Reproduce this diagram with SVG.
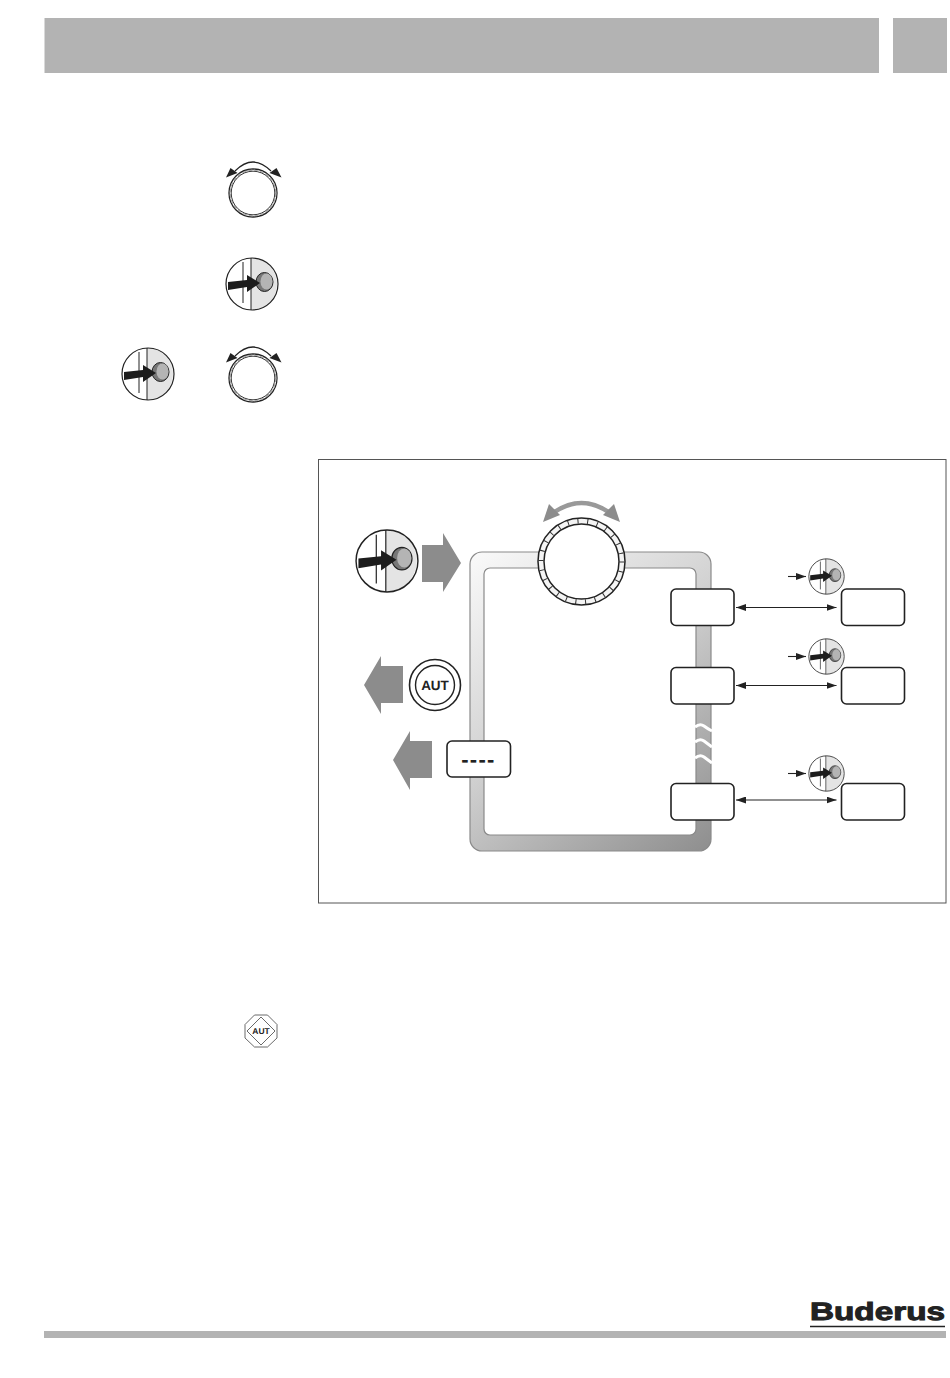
<svg xmlns="http://www.w3.org/2000/svg" width="950" height="1378" viewBox="0 0 950 1378">
<style>
.bar{fill:#b3b3b3}
.box{fill:#fff;stroke:#222;stroke-width:1.6}
.grey{fill:#8c8c8c}
.conn{fill:none;stroke:#222;stroke-width:1.1}
text{font-family:"Liberation Sans",Arial,sans-serif;font-weight:700;fill:#222;text-anchor:middle;text-rendering:geometricPrecision}
</style>
<defs>
<linearGradient id="pipe" gradientUnits="userSpaceOnUse" x1="470" y1="552" x2="711" y2="851">
<stop offset="0" stop-color="#fafafa"/><stop offset=".45" stop-color="#d2d2d2"/><stop offset="1" stop-color="#8e8e8e"/>
</linearGradient>
<marker id="ah" markerUnits="userSpaceOnUse" markerWidth="11" markerHeight="7" refX="10" refY="3.5" orient="auto-start-reverse"><path d="M0 0L10 3.500L0 7z" fill="#222"/></marker>
<g id="press">
<circle r="26" fill="#fff"/>
<path d="M-1 -26A26 26 0 0 1 -1 26z" fill="#e4e4e4"/>
<path d="M-9 -22V19M-1 -26V26" fill="none" stroke="#222" stroke-width="1"/>
<ellipse cx="12.500" cy="-2" rx="8.500" ry="9.500" fill="#777" stroke="#222" stroke-width="1"/>
<ellipse cx="14.500" cy="-2.500" rx="6" ry="8" fill="#b4b4b4"/>
<path d="M-24 -2L-5 -4V-9L8 -1L-5 8V3L-24 6z" fill="#1c1c1c"/>
<circle r="26" fill="none" stroke="#222" stroke-width="1.200"/>
</g>
<g id="dial">
<circle r="24" fill="#fff" stroke="#222" stroke-width="1.300"/>
<circle r="22.800" fill="none" stroke="#aaa" stroke-width="1.200" stroke-dasharray="4 2"/>
<circle r="21.800" fill="#fff" stroke="#222" stroke-width=".9"/>
<path d="M-18 -22Q0 -40 18 -22" fill="none" stroke="#222" stroke-width="1.200"/>
<path d="M-27 -15.500L-22.500 -25L-15.500 -20z" fill="#222"/>
<path d="M28.500 -15.500L23.500 -25L16.500 -20z" fill="#222"/>
</g>
</defs>
<rect id="header-left" class="bar" x="44.500" y="18" width="834.500" height="55"/>
<rect id="header-right" class="bar" x="893" y="18" width="54" height="55"/>
<g id="step-dial-1"><use href="#dial" x="253" y="193"/></g>
<g id="step-press"><use href="#press" x="252" y="284"/></g>
<g id="step-press-2"><use href="#press" x="148" y="374"/></g>
<g id="step-dial-2"><use href="#dial" x="253" y="378"/></g>
<rect id="frame" x="318.500" y="459.500" width="627.500" height="443.500" fill="#fff" stroke="#555" stroke-width="1"/>
<g id="pipe-loop">
<path fill-rule="evenodd" fill="url(#pipe)" stroke="#8a8a8a" stroke-width="1.200" d="M482 552H699A12 12 0 0 1 711 564V839A12 12 0 0 1 699 851H482A12 12 0 0 1 470 839V564A12 12 0 0 1 482 552ZM490 568A6 6 0 0 0 484 574V829A6 6 0 0 0 490 835H690A6 6 0 0 0 696 829V574A6 6 0 0 0 690 568Z"/>
<path d="M695 727Q700 723 704 726T712 731M695 742Q700 738 704 741T712 747M695 758Q700 754 704 757T712 763" fill="none" stroke="#fff" stroke-width="3"/>
</g>
<g id="rotary-dial">
<circle cx="581.500" cy="561.500" r="43.500" fill="#f4f4f4" stroke="#222" stroke-width="1.500"/>
<circle cx="581.500" cy="561.500" r="40.500" fill="none" stroke="#333" stroke-width="5" stroke-dasharray="1 8.815"/>
<circle cx="581.500" cy="561.500" r="37.500" fill="#fff" stroke="#222" stroke-width="1.500"/>
<path d="M553 513Q581.500 493 610 513" fill="none" stroke="#999" stroke-width="4.500"/>
<path class="grey" d="M543 522L549 504L560 515z"/>
<path class="grey" d="M620 522L614 504L603 515z"/>
</g>
<g id="push-big">
<use href="#press" transform="translate(387 561) scale(1.190)"/>
<path class="grey" d="M422 545H443V533L461 563L443 592V582H422z"/>
</g>
<g id="aut-button">
<circle cx="435" cy="685" r="25.500" fill="#fff" stroke="#222" stroke-width="1.600"/>
<circle cx="435" cy="685" r="19.500" fill="#fff" stroke="#222" stroke-width="1.400"/>
<text x="435" y="690" font-size="13.500">AUT</text>
<path class="grey" d="M403 666H381V656L364 685L381 714V703H403z"/>
</g>
<g id="display">
<rect class="box" x="447" y="741" width="63.500" height="36" rx="5"/>
<text x="478.500" y="767" font-size="22" letter-spacing="1.300">----</text>
<path class="grey" d="M432 741H410V731L393 760L410 790V778H432z"/>
</g>
<g id="box-1"><rect class="box" x="671" y="589" width="63" height="36.500" rx="5"/></g>
<g id="box-2"><rect class="box" x="671" y="667.500" width="63" height="36.500" rx="5"/></g>
<g id="box-3"><rect class="box" x="671" y="783.500" width="63" height="36.500" rx="5"/></g>
<g id="box-1r"><rect class="box" x="841.500" y="589" width="63" height="36.500" rx="5"/></g>
<g id="box-2r"><rect class="box" x="841.500" y="667.500" width="63" height="36.500" rx="5"/></g>
<g id="box-3r"><rect class="box" x="841.500" y="783.500" width="63" height="36.500" rx="5"/></g>
<g id="press-1"><use href="#press" transform="translate(826.500 576.500) scale(.68)"/></g>
<g id="press-2"><use href="#press" transform="translate(826.500 656.500) scale(.68)"/></g>
<g id="press-3"><use href="#press" transform="translate(826.500 773.500) scale(.68)"/></g>
<g id="connectors">
<path class="conn" d="M736 607.500H836.500" marker-start="url(#ah)" marker-end="url(#ah)"/>
<path class="conn" d="M736 685.500H836.500" marker-start="url(#ah)" marker-end="url(#ah)"/>
<path class="conn" d="M736 800H836.500" marker-start="url(#ah)" marker-end="url(#ah)"/>
<path class="conn" d="M788 576.500H806" marker-end="url(#ah)"/>
<path class="conn" d="M788 656.500H806" marker-end="url(#ah)"/>
<path class="conn" d="M788 773.500H806" marker-end="url(#ah)"/>
</g>
<g id="aut-small">
<path d="M254.500 1015L267.500 1015L277 1024.500L277 1038L267.500 1047L254.500 1047L245 1038L245 1024.500Z" fill="#fff" stroke="#444" stroke-width=".8"/>
<path d="M261 1017L275 1031L261 1045L247 1031Z" fill="#fff" stroke="#444" stroke-width=".8"/>
<text x="261" y="1034" font-size="8.500">AUT</text>
</g>
<g id="logo">
<text x="810" y="1320" font-size="25" textLength="135" lengthAdjust="spacingAndGlyphs" stroke="#222" stroke-width="1" style="text-anchor:start">Buderus</text>
<path d="M810 1326.500H945" stroke="#222" stroke-width="1.300" fill="none"/>
</g>
<rect id="footer" class="bar" x="44" y="1331" width="902" height="7"/>
</svg>
